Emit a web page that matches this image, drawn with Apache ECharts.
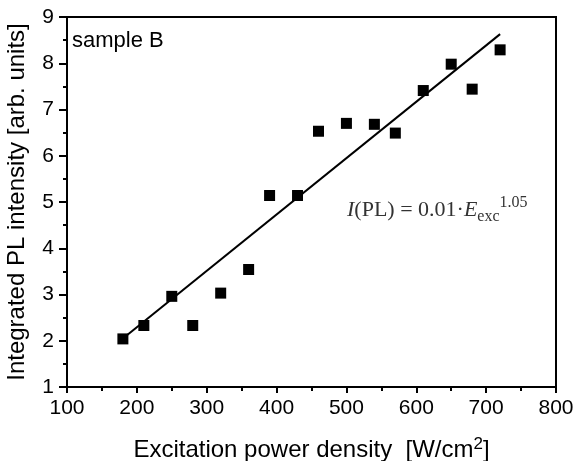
<!DOCTYPE html>
<html>
<head>
<meta charset="utf-8">
<script src="https://cdn.jsdelivr.net/npm/echarts@6/dist/echarts.min.js"></script>
<style>
  html, body { margin: 0; padding: 0; background: #fff; }
  #chartBox { width: 576px; height: 461px; }
</style>
</head>
<body>
<div id="chartBox"></div>
<script>
// measured points (excitation power density, PL intensity)
var powerDensity = [180, 210, 250, 280, 320, 360, 390, 430, 460, 500, 540, 570, 610, 650, 680, 720];
var plIntensity = [2.04, 2.33, 2.96, 2.33, 3.03, 3.54, 5.14, 5.14, 6.53, 6.70, 6.68, 6.49, 7.41, 7.98, 7.44, 8.29];
// fitted line ends
var fitX = [180, 720];
var fitY = [2.05, 8.63];

var xTicks = [100, 800, 100]; // min, max, step
var yTicks = [1, 9, 1];

var myChart;

window.onload = function () {
  myChart = echarts.init(document.getElementById("chartBox"));
  myChart.setOption(buildOption());
};

function buildOption() {
  var points = powerDensity.map(function (x, i) { return [x, plIntensity[i]]; });
  var fit = fitX.map(function (x, i) { return [x, fitY[i]]; });
  var font = "Liberation Sans, Arial, sans-serif";
  var serif = "Liberation Serif, Times New Roman, serif";

  return {
    animation: false,
    grid: {
      left: 67, right: 20, top: 17, bottom: 74,
      containLabel: false,
      outerBoundsMode: "none",
      show: true,
      borderColor: "#000",
      borderWidth: 2
    },
    xAxis: {
      type: "value",
      min: xTicks[0], max: xTicks[1], interval: xTicks[2],
      name: "{n|Excitation power density  [W/cm}{s|2}{n|]}",
      nameLocation: "middle",
      nameGap: 45,
      nameTextStyle: {
        rich: {
          n: { fontFamily: font, fontSize: 24, color: "#000", lineHeight: 30, verticalAlign: "bottom" },
          s: { fontFamily: font, fontSize: 17, color: "#000", lineHeight: 30, verticalAlign: "top", padding: [4, 0, 0, 0] }
        }
      },
      axisLine: { show: true, lineStyle: { color: "#000", width: 2 } },
      axisTick: { show: true, inside: false, length: 6, lineStyle: { color: "#000", width: 2 } },
      minorTick: { show: true, splitNumber: 2, length: 4, lineStyle: { color: "#000", width: 2 } },
      axisLabel: { color: "#000", fontFamily: font, fontSize: 21, margin: 11, hideOverlap: false },
      splitLine: { show: false }
    },
    yAxis: {
      type: "value",
      min: yTicks[0], max: yTicks[1], interval: yTicks[2],
      name: "Integrated PL intensity [arb. units]",
      nameLocation: "middle",
      nameGap: 38,
      nameTextStyle: { fontFamily: font, fontSize: 24, color: "#000" },
      axisLine: { show: true, lineStyle: { color: "#000", width: 2 } },
      axisTick: { show: true, inside: false, length: 8, lineStyle: { color: "#000", width: 2 } },
      minorTick: { show: true, splitNumber: 2, length: 4, lineStyle: { color: "#000", width: 2 } },
      axisLabel: { color: "#000", fontFamily: font, fontSize: 21, margin: 13 },
      splitLine: { show: false }
    },
    graphic: [
      {
        type: "text", left: 72, top: 30,
        style: { text: "sample B", fontFamily: font, fontSize: 22, fill: "#000" }
      },
      {
        type: "text", left: 347, top: 193,
        style: {
          text: "{i|I}{n|(PL) = 0.01\u00b7}{i|E}{b|exc}{p|1.05}",
          rich: {
            i: { fontFamily: serif, fontStyle: "italic", fontSize: 22, fill: "#333", lineHeight: 34, verticalAlign: "middle" },
            n: { fontFamily: serif, fontSize: 22, fill: "#333", lineHeight: 34, verticalAlign: "middle" },
            b: { fontFamily: serif, fontSize: 16, fill: "#333", lineHeight: 34, verticalAlign: "bottom", padding: [0, 0, 2, 0] },
            p: { fontFamily: serif, fontSize: 16, fill: "#333", lineHeight: 34, verticalAlign: "top", padding: [2, 0, 0, 0] }
          }
        }
      }
    ],
    series: [
      {
        type: "line",
        data: fit,
        showSymbol: false,
        lineStyle: { color: "#000", width: 2 },
        z: 2
      },
      {
        type: "scatter",
        data: points,
        symbol: "rect",
        symbolSize: 11,
        itemStyle: { color: "#000", opacity: 1 },
        z: 3
      }
    ]
  };
}
</script>
</body>
</html>
